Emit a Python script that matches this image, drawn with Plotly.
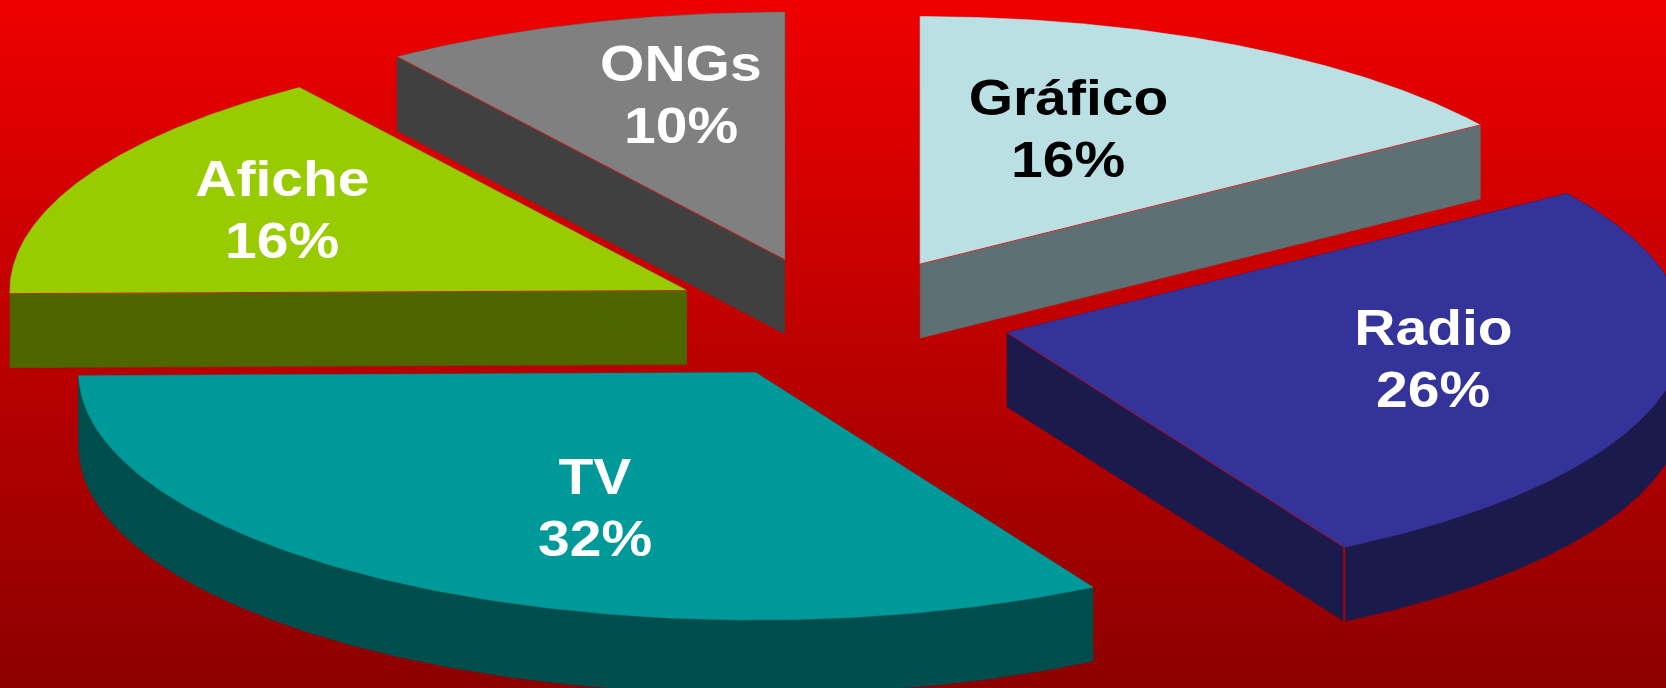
import numpy as np
import plotly.graph_objects as go

categories = ["Gráfico", "Radio", "TV", "Afiche", "ONGs"]
values = [15.5, 26.2, 33.1, 15.5, 9.7]
percent_labels = ["16%", "26%", "32%", "16%", "10%"]
top_colors = ["#BAE0E4", "#333399", "#009999", "#99CC00", "#808080"]
side_colors = ["#5E7073", "#1A1A4D", "#004D4D", "#4D6600", "#404040"]
text_colors = ["black", "white", "white", "white", "white"]

W, H = 1666, 688
CX, CY, RX, RY = 839.5, 318.8, 677.0, 247.5
EXPLODE, DEPTH = 0.25, 74.0
explode_nudge = [1.5, 2.5, 0.0, -2.0, -4.0]
EDGE = "rgba(214,0,0,0.8)"
FONT = "Liberation Sans"
FONT_SIZE = 50
TEXT_STRETCH = 1.14
LINE_GAP = 62
label_x = [1068, 1433, 595, 282, 681]
label_y = [129, 359, 508, 210, 95]

fig = go.Figure()
fig.add_trace(go.Scatter(
    x=[0, W, W, 0, 0], y=[0, 0, H, H, 0], mode="lines", line=dict(width=0), fill="toself",
    fillgradient=dict(type="vertical", colorscale=[[0, "#8C0000"], [1, "#EE0000"]]),
    hoverinfo="skip", showlegend=False))

def pt(cx, cy, angle):
    return cx + RX * np.sin(angle), cy - RY * np.cos(angle)

def line(xs, ys, color, width):
    fig.add_trace(go.Scatter(x=xs, y=ys, mode="lines", line=dict(color=color, width=width),
                             hoverinfo="skip", showlegend=False))

total = sum(values)
start = 0.0
for i, (name, value, top, side) in enumerate(zip(categories, values, top_colors, side_colors)):
    a0 = start / total * 2 * np.pi
    a1 = (start + value) / total * 2 * np.pi
    mid = (a0 + a1) / 2
    start += value
    ax = CX + EXPLODE * RX * np.sin(mid) + explode_nudge[i]
    ay = CY - EXPLODE * RY * np.cos(mid)
    t = np.linspace(a0, a1, 160)
    ex, ey = pt(ax, ay, t)
    faces = [
        (np.r_[ex, ex[::-1]], np.r_[ey, ey[::-1] + DEPTH]),
        (np.r_[ax, ex[0], ex[0], ax], np.r_[ay, ey[0], ey[0] + DEPTH, ay + DEPTH]),
        (np.r_[ax, ex[-1], ex[-1], ax], np.r_[ay, ey[-1], ey[-1] + DEPTH, ay + DEPTH]),
    ]
    for fx, fy in faces:
        fig.add_trace(go.Scatter(x=fx, y=fy, mode="lines", fill="toself", fillcolor=side,
                                 line=dict(color=side, width=0.5), hoverinfo="skip", showlegend=False))
    fig.add_trace(go.Scatter(x=np.r_[ax, ex, ax], y=np.r_[ay, ey, ay], mode="lines", fill="toself",
                             fillcolor=top, line=dict(color=top, width=0.5), name=name, showlegend=False))
    # thin red seams along the radial edges whose wall is visible
    if a1 < np.pi:
        line([ax, ex[-1]], [ay, ey[-1]], EDGE, 1)
        if a1 > np.pi / 2:
            line([ex[-1], ex[-1]], [ey[-1], ey[-1] + DEPTH], "#B00000", 2)
    if a0 > np.pi:
        line([ax, ex[0]], [ay, ey[0]], EDGE, 1)
    font = dict(family=FONT, size=FONT_SIZE, color=text_colors[i], weight=700)
    fig.add_annotation(x=label_x[i], y=label_y[i] - LINE_GAP / 2, text=name, showarrow=False, font=font)
    fig.add_annotation(x=label_x[i], y=label_y[i] + LINE_GAP / 2, text=percent_labels[i], showarrow=False, font=font)

fig.update_xaxes(range=[0, W], visible=False, fixedrange=True)
fig.update_yaxes(range=[H, 0], visible=False, fixedrange=True)
fig.update_layout(width=W, height=H, margin=dict(l=0, r=0, t=0, b=0),
                  plot_bgcolor="#BB0000", paper_bgcolor="#BB0000")
stretch_js = (
    "document.body.style.margin='0';document.body.style.overflow='hidden';"
    "document.querySelectorAll('text.annotation-text').forEach(function(t){"
    "t.setAttribute('textLength', t.getComputedTextLength()*%s);"
    "t.setAttribute('lengthAdjust','spacingAndGlyphs');});" % TEXT_STRETCH
)
fig.write_html("out.html", config={"displayModeBar": False}, post_script=stretch_js)
